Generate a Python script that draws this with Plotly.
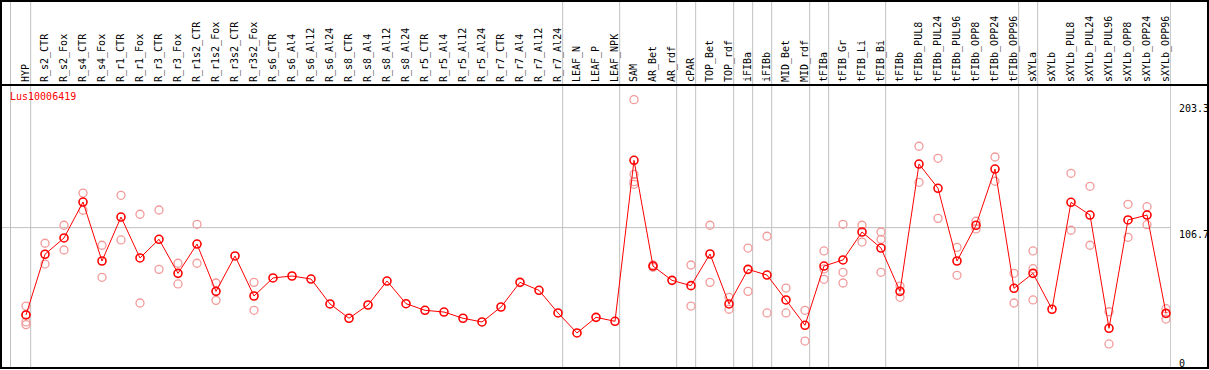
import plotly.graph_objects as go

categories = [
    "HYP", "R_s2_CTR", "R_s2_Fox", "R_s4_CTR", "R_s4_Fox", "R_r1_CTR", "R_r1_Fox",
    "R_r3_CTR", "R_r3_Fox", "R_r1s2_CTR", "R_r1s2_Fox", "R_r3s2_CTR", "R_r3s2_Fox",
    "R_s6_CTR", "R_s6_Al4", "R_s6_Al12", "R_s6_Al24", "R_s8_CTR", "R_s8_Al4",
    "R_s8_Al12", "R_s8_Al24", "R_r5_CTR", "R_r5_Al4", "R_r5_Al12", "R_r5_Al24",
    "R_r7_CTR", "R_r7_Al4", "R_r7_Al12", "R_r7_Al24", "LEAF_N", "LEAF_P", "LEAF_NPK",
    "SAM", "AR_Bet", "AR_rdf", "cPAR", "TOP_Bet", "TOP_rdf", "iFIBa", "iFIBb",
    "MID_Bet", "MID_rdf", "tFIBa", "tFIB_Gr", "tFIB_Li", "tFIB_Bi", "tFIBb",
    "tFIBb_PUL8", "tFIBb_PUL24", "tFIBb_PUL96", "tFIBb_OPP8", "tFIBb_OPP24",
    "tFIBb_OPP96", "sXYLa", "sXYLb", "sXYLb_PUL8", "sXYLb_PUL24", "sXYLb_PUL96",
    "sXYLb_OPP8", "sXYLb_OPP24", "sXYLb_OPP96",
]

mean_values = [
    40.8, 86.6, 98.9, 126.0, 81.5, 114.7, 83.8, 97.9, 72.2, 94.3, 58.6, 85.3, 55.1,
    68.7, 70.2, 67.9, 49.1, 38.3, 48.3, 66.4, 49.3, 44.3, 43.0, 38.3, 35.5,
    46.8, 65.4, 59.4, 42.3, 27.2, 39.0, 36.0,
    157.5, 77.7, 66.9, 62.9, 86.8, 49.1, 75.2, 70.9, 52.1, 33.0, 77.7, 82.3, 103.4,
    91.3, 58.6, 154.7, 136.4, 81.5, 108.5, 150.9, 60.9, 72.2, 45.1, 125.8, 116.2,
    30.7, 112.5, 116.2, 42.0,
]

replicates = [
    [47.5, 41.0, 35.5, 33.5], [94.9, 79.2], [108.5, 89.8], [132.8, 119.8],
    [93.4, 69.2], [131.1, 97.4], [116.8, 49.8], [120.0, 75.2], [79.8, 64.2],
    [109.2, 79.8], [64.9, 51.8], [], [65.4, 44.3],
    [], [], [], [], [], [], [], [], [], [], [], [], [], [], [], [], [], [], [],
    [203.3, 146.9, 141.4, 139.4], [78.5, 76.8], [], [78.5, 47.5], [108.5, 65.4],
    [54.1, 45.1], [91.3, 58.6], [100.2, 42.3], [61.1, 42.3], [44.3, 21.1],
    [89.1, 75.5, 67.7], [109.2, 73.0, 64.9], [108.5, 95.8], [103.4, 97.9, 73.0],
    [62.6, 54.1], [168.1, 140.9], [159.0, 113.7], [91.8, 70.7], [111.5, 105.7],
    [160.0, 141.7], [72.2, 49.8], [89.1, 75.7, 52.1], [], [147.7, 104.7],
    [137.9, 93.4], [43.2, 18.9], [124.3, 99.4], [122.5, 108.9], [45.5, 37.7],
]

# number of categories in each group (separated by grey vertical lines)
group_sizes = [1, 28, 3, 3, 1, 2, 1, 1, 2, 1, 3, 7, 1, 7]

axis_labels = [0, 106.7, 203.3]
grid_value = 106.7
title_text = "Lus10006419"

# ---- layout geometry (pixels) ----
W, H = 1209, 370
ML, MR, MT, MB = 1, 38, 85, 1
PW, PH = W - ML - MR, H - MT - MB
X0_PX, X_STEP = 26, 19          # pixel of first category, pixel per category
Y_SCALE = 1.325                 # pixel per unit


def px_x(p):
    return (p - ML) / PW


def px_y(p):
    return (H - MB - p) / PH


x_idx = list(range(len(categories)))
rep_x, rep_y = [], []
for i, reps in enumerate(replicates):
    for v in reps:
        rep_x.append(i)
        rep_y.append(v)

red = "#ff0000"
pink = "#f29a9a"
font = "DejaVu Sans Mono"

fig = go.Figure()
fig.add_trace(go.Scatter(
    x=rep_x, y=rep_y, mode="markers",
    marker=dict(symbol="circle-open", size=8, color=pink, line=dict(width=1.3, color=pink)),
    showlegend=False, hoverinfo="skip", cliponaxis=False,
))
fig.add_trace(go.Scatter(
    x=x_idx, y=mean_values, mode="lines+markers",
    line=dict(color=red, width=1),
    marker=dict(symbol="circle-open", size=8, color=red, line=dict(width=1.6, color=red)),
    showlegend=False, cliponaxis=False,
))

x_lo = (ML - X0_PX) / X_STEP
x_hi = (ML + PW - X0_PX) / X_STEP

shapes = []
# grey group separators
sep_positions = [-0.816]
cum = 0
for g in group_sizes:
    cum += g
    sep_positions.append(cum - 1 + 0.245)
for s in sep_positions:
    shapes.append(dict(type="line", xref="x", yref="paper", x0=s, x1=s,
                       y0=0, y1=px_y(0), line=dict(color="#c0c0c0", width=1), layer="below"))
# horizontal grid line
shapes.append(dict(type="line", xref="paper", yref="y", x0=0, x1=px_x(1171),
                   y0=grid_value, y1=grid_value, line=dict(color="#c0c0c0", width=1), layer="below"))
# frame
shapes.append(dict(type="rect", xref="paper", yref="paper", x0=px_x(1), x1=px_x(1208),
                   y0=px_y(368), y1=px_y(1), line=dict(color="black", width=2)))
shapes.append(dict(type="line", xref="paper", yref="paper", x0=px_x(1), x1=px_x(1208),
                   y0=px_y(85), y1=px_y(85), line=dict(color="black", width=2)))

annotations = [dict(text=title_text, xref="paper", yref="paper", x=px_x(8), y=px_y(89),
                    xanchor="left", yanchor="top", showarrow=False,
                    font=dict(family=font, size=10, color=red))]
label_shift = {0: -2, 106.7: 1, 203.3: -1}
for v in axis_labels:
    annotations.append(dict(
        text=f"{v:g}", xref="paper", yref="y", x=px_x(1177), y=v,
        xanchor="left", yanchor="bottom" if v == 0 else "top",
        yshift=label_shift[v],
        showarrow=False, font=dict(family=font, size=10, color="black")))

fig.update_layout(
    width=W, height=H, autosize=False,
    margin=dict(l=ML, r=MR, t=MT, b=MB, pad=0, autoexpand=False),
    paper_bgcolor="white", plot_bgcolor="white",
    shapes=shapes, annotations=annotations,
    xaxis=dict(range=[x_lo, x_hi], side="top", tickmode="array", tickvals=x_idx,
               ticktext=categories, tickangle=-90, showgrid=False, zeroline=False,
               showline=False, ticks="", tickfont=dict(family=font, size=10, color="black"),
               ticklabelstandoff=2, fixedrange=True, automargin=False),
    yaxis=dict(range=[0, PH / Y_SCALE], showgrid=False, zeroline=False, showline=False,
               showticklabels=False, ticks="", fixedrange=True, automargin=False),
)

fig.write_html(
    "out.html",
    config={"displayModeBar": False},
    post_script="document.body.style.margin='0';document.body.style.overflow='hidden';",
)
